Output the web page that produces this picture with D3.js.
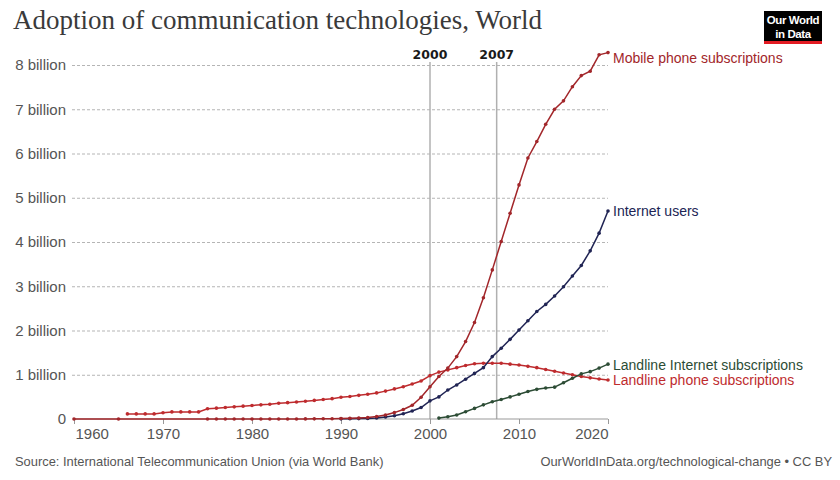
<!DOCTYPE html>
<html>
<head>
<meta charset="utf-8">
<script src="https://cdn.jsdelivr.net/npm/d3@7"></script>
<style>
  html, body { margin: 0; padding: 0; background: #ffffff; }
  svg { display: block; }
</style>
</head>
<body>
<svg id="chart" width="840" height="480"></svg>
<script>
// ---------- DATA (values in billions) ----------
const mobileYears = [1960, 1965, 1975, 1976, 1977, 1978, 1979, 1980, 1981, 1982, 1983, 1984, 1985, 1986, 1987, 1988, 1989,
  1990, 1991, 1992, 1993, 1994, 1995, 1996, 1997, 1998, 1999, 2000, 2001, 2002, 2003, 2004, 2005, 2006, 2007, 2008, 2009,
  2010, 2011, 2012, 2013, 2014, 2015, 2016, 2017, 2018, 2019, 2020];
const mobileValues = [0, 0, 0, 0, 0, 0, 0, 0, 0, 0.0001, 0.0002, 0.0005, 0.001, 0.002, 0.003, 0.004, 0.007,
  0.011, 0.016, 0.023, 0.034, 0.056, 0.091, 0.145, 0.215, 0.31, 0.49, 0.73, 0.96, 1.15, 1.41, 1.75, 2.18, 2.74, 3.37, 4.01, 4.65,
  5.29, 5.90, 6.27, 6.66, 7.00, 7.19, 7.51, 7.76, 7.86, 8.23, 8.28];

const landlineYears = [1966, 1967, 1968, 1969, 1970, 1971, 1972, 1973, 1974, 1975, 1976, 1977, 1978, 1979, 1980, 1981, 1982,
  1983, 1984, 1985, 1986, 1987, 1988, 1989, 1990, 1991, 1992, 1993, 1994, 1995, 1996, 1997, 1998, 1999, 2000, 2001, 2002,
  2003, 2004, 2005, 2006, 2007, 2008, 2009, 2010, 2011, 2012, 2013, 2014, 2015, 2016, 2017, 2018, 2019, 2020];
const landlineValues = [0.115, 0.115, 0.115, 0.115, 0.14, 0.16, 0.16, 0.16, 0.16, 0.23, 0.245, 0.26, 0.275, 0.29, 0.305, 0.32, 0.335,
  0.355, 0.37, 0.385, 0.40, 0.42, 0.44, 0.46, 0.49, 0.51, 0.535, 0.56, 0.59, 0.63, 0.68, 0.73, 0.79, 0.86, 0.98, 1.06, 1.11,
  1.16, 1.21, 1.25, 1.26, 1.26, 1.26, 1.24, 1.22, 1.19, 1.16, 1.12, 1.08, 1.04, 1.00, 0.96, 0.93, 0.905, 0.88];

const internetYears = [1990, 1991, 1992, 1993, 1994, 1995, 1996, 1997, 1998, 1999, 2000, 2001, 2002, 2003, 2004, 2005, 2006,
  2007, 2008, 2009, 2010, 2011, 2012, 2013, 2014, 2015, 2016, 2017, 2018, 2019, 2020];
const internetValues = [0.003, 0.004, 0.009, 0.014, 0.025, 0.044, 0.075, 0.12, 0.18, 0.26, 0.41, 0.50, 0.655, 0.77, 0.90, 1.03, 1.16,
  1.41, 1.60, 1.80, 2.01, 2.22, 2.43, 2.59, 2.78, 2.99, 3.23, 3.47, 3.80, 4.20, 4.70];

const broadbandYears = [2001, 2002, 2003, 2004, 2005, 2006, 2007, 2008, 2009, 2010, 2011, 2012, 2013, 2014, 2015, 2016, 2017, 2018, 2019, 2020];
const broadbandValues = [0.02, 0.05, 0.09, 0.165, 0.24, 0.32, 0.39, 0.44, 0.50, 0.56, 0.62, 0.67, 0.70, 0.72, 0.82, 0.92, 1.02, 1.07, 1.15, 1.24];

const seriesNames = ["Mobile phone subscriptions", "Internet users", "Landline Internet subscriptions", "Landline phone subscriptions"];
const yTicks = [0, 1, 2, 3, 4, 5, 6, 7, 8];
const yTickLabels = ["0", "1 billion", "2 billion", "3 billion", "4 billion", "5 billion", "6 billion", "7 billion", "8 billion"];
const xTicks = [1960, 1970, 1980, 1990, 2000, 2010, 2020];
const eventLabels = ["2000", "2007"];
const eventDates = [2000.0, 2007.49];   // Jan 1, 2000 and Jun 29, 2007 as fractional years
const titleText = "Adoption of communication technologies, World";
const sourceText = "Source: International Telecommunication Union (via World Bank)";
const creditText = "OurWorldInData.org/technological-change • CC BY";

// ---------- CHART ----------
const svg = d3.select("#chart");
const margin = { left: 74, right: 232, top: 65, bottom: 61 };
const W = 840, H = 480;

const x = d3.scaleLinear().domain([1960, 2020]).range([margin.left, W - margin.right]);
const y = d3.scaleLinear().domain([0, 8]).range([H - margin.bottom, margin.top]);

const sans = "'Liberation Sans', Arial, Helvetica, sans-serif";

svg.append("rect").attr("width", W).attr("height", H).attr("fill", "#ffffff");

// Title
svg.append("text").attr("x", 13).attr("y", 29)
  .attr("font-family", "'Liberation Serif', 'Times New Roman', serif")
  .attr("font-size", 27).attr("fill", "#3a3a3a").text(titleText);

// Logo
const logo = svg.append("g").attr("transform", "translate(764,11)");
logo.append("rect").attr("width", 58).attr("height", 33).attr("fill", "#000000");
logo.append("rect").attr("y", 30).attr("width", 58).attr("height", 3).attr("fill", "#e31b23");
logo.append("text").attr("x", 29).attr("y", 13).attr("text-anchor", "middle")
  .attr("font-family", "'Liberation Sans Narrow', 'Liberation Sans', Arial, sans-serif").attr("font-weight", "bold")
  .attr("font-size", 11.5).attr("fill", "#ffffff").attr("letter-spacing", -0.4).text("Our World");
logo.append("text").attr("x", 29).attr("y", 26.5).attr("text-anchor", "middle")
  .attr("font-family", "'Liberation Sans Narrow', 'Liberation Sans', Arial, sans-serif").attr("font-weight", "bold")
  .attr("font-size", 11.5).attr("fill", "#ffffff").attr("letter-spacing", -0.4).text("in Data");

// Y grid + labels
const yAxis = d3.axisLeft(y).tickValues(yTicks).tickFormat((d, i) => yTickLabels[i])
  .tickSize(-(W - margin.right - margin.left + 2)).tickPadding(6);
const yg = svg.append("g").attr("transform", `translate(${margin.left - 2},0)`).call(yAxis);
yg.select(".domain").remove();
yg.selectAll(".tick line").attr("stroke", "#b5b5b5").attr("stroke-dasharray", "3,2").attr("stroke-width", 1)
  .filter(d => d === 0).remove();
yg.selectAll(".tick text").attr("font-family", sans).attr("font-size", 15).attr("fill", "#555");

// Event lines
eventDates.forEach((dt, i) => {
  svg.append("line").attr("x1", x(dt)).attr("x2", x(dt)).attr("y1", y(8) - 3).attr("y2", y(0))
    .attr("stroke", "#b0b0b0").attr("stroke-width", 1.5);
  svg.append("text").attr("x", x(dt)).attr("y", 59).attr("text-anchor", "middle")
    .attr("font-family", "'DejaVu Sans', sans-serif").attr("font-weight", "bold").attr("font-size", 12.5)
    .attr("fill", "#1a1a1a").text(eventLabels[i]);
});

// X axis
const xAxis = d3.axisBottom(x).tickValues(xTicks).tickFormat(d3.format("d")).tickSize(5).tickPadding(4);
const xg = svg.append("g").attr("transform", `translate(0,${y(0)})`).call(xAxis);
xg.select(".domain").attr("stroke", "#999").attr("d", `M${x(1960)},0H${x(2020)}`);
xg.selectAll(".tick line").attr("stroke", "#999");
xg.selectAll(".tick text").attr("font-family", sans).attr("font-size", 15).attr("fill", "#555")
  .attr("text-anchor", d => d === 1960 ? "start" : (d === 2020 ? "end" : "middle"))
  .attr("dx", d => d === 1960 ? 1 : 0);

// Series
const series = [
  { name: seriesNames[3], years: landlineYears, values: landlineValues, color: "#be2b2e", labelY: 385 },
  { name: seriesNames[2], years: broadbandYears, values: broadbandValues, color: "#2c4c35", labelY: 370 },
  { name: seriesNames[1], years: internetYears, values: internetValues, color: "#202454", labelY: 216 },
  { name: seriesNames[0], years: mobileYears, values: mobileValues, color: "#a2262a", labelY: 63 }
];

const line = d3.line().x(d => x(d[0])).y(d => y(d[1]));

series.forEach(s => {
  const pts = s.years.map((yr, i) => [yr, s.values[i]]);
  const g = svg.append("g");
  g.append("path").datum(pts).attr("d", line).attr("fill", "none")
    .attr("stroke", s.color).attr("stroke-width", 1.5);
  g.selectAll("circle").data(pts).join("circle")
    .attr("cx", d => x(d[0])).attr("cy", d => y(d[1])).attr("r", 1.8).attr("fill", s.color);
  svg.append("text").attr("x", 613).attr("y", s.labelY)
    .attr("font-family", sans).attr("font-size", 14).attr("fill", s.color).text(s.name);
});

// Footer
svg.append("text").attr("x", 15).attr("y", 466).attr("font-family", sans).attr("font-size", 12.9)
  .attr("fill", "#555").text(sourceText);
svg.append("text").attr("x", 832).attr("y", 466).attr("text-anchor", "end").attr("font-family", sans)
  .attr("font-size", 12.9).attr("fill", "#555").text(creditText);
</script>
</body>
</html>
